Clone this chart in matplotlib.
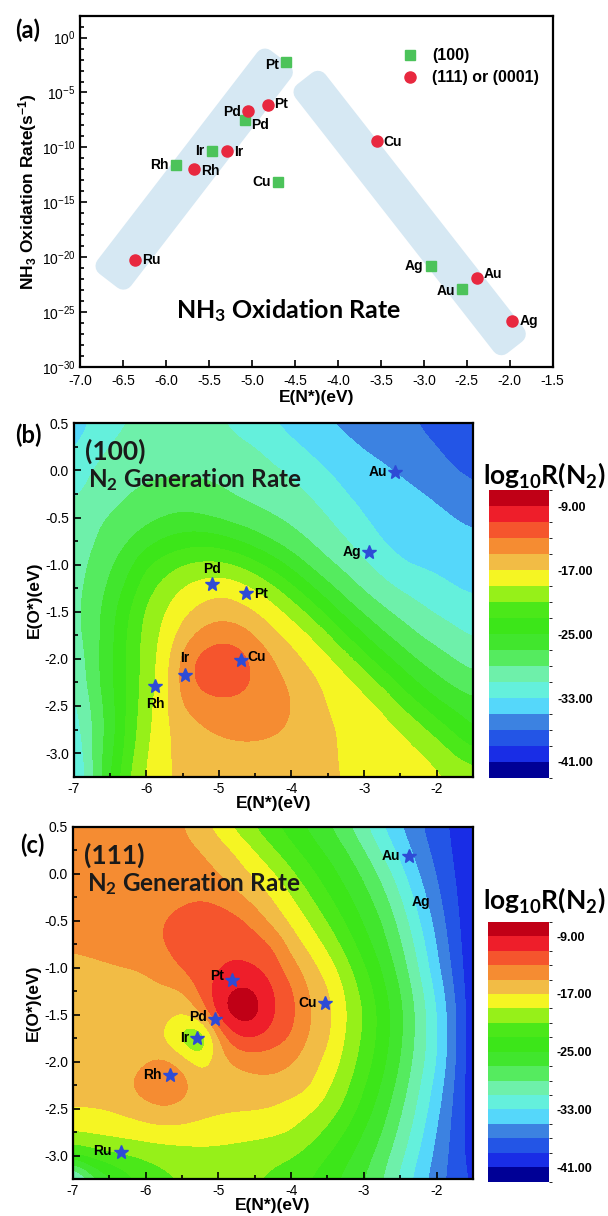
import numpy as np
import matplotlib
matplotlib.use("Agg")
import matplotlib.pyplot as plt
import matplotlib.cm as cm
from matplotlib.colors import ListedColormap, BoundaryNorm
from matplotlib.patches import Polygon
from matplotlib.lines import Line2D
from matplotlib.ticker import (FixedLocator, LogFormatterMathtext, MultipleLocator,
                               FormatStrFormatter, NullFormatter)

plt.rcParams['font.family'] = ['Liberation Sans', 'DejaVu Sans']
plt.rcParams['axes.unicode_minus'] = False
plt.rcParams['mathtext.default'] = 'regular'

# ---------------- (a) NH3 oxidation rate ----------------
metals_100 = ["Pt", "Pd", "Ir", "Rh", "Cu", "Ag", "Au"]
eN_100 = [-4.61, -5.08, -5.47, -5.89, -4.70, -2.92, -2.55]
rate_100 = [5.6e-3, 3.2e-8, 5.0e-11, 2.5e-12, 6.3e-14, 1.6e-21, 1.3e-23]

metals_111 = ["Ru", "Rh", "Ir", "Pd", "Pt", "Cu", "Au", "Ag"]
eN_111 = [-6.36, -5.67, -5.29, -5.05, -4.82, -3.55, -2.38, -1.97]
rate_111 = [5.0e-21, 1.0e-12, 5.0e-11, 2.2e-7, 6.8e-7, 3.8e-10, 1.3e-22, 1.6e-26]

# ---------------- (b)/(c) N2 generation rate maps ----------------
grid_eN = [-7.0, -6.75, -6.5, -6.25, -6.0, -5.75, -5.5, -5.25, -5.0, -4.75, -4.5, -4.25,
           -4.0, -3.75, -3.5, -3.25, -3.0, -2.75, -2.5, -2.25, -2.0, -1.75, -1.5]
grid_eO = [0.5, 0.25, 0.0, -0.25, -0.5, -0.75, -1.0, -1.25, -1.5, -1.75, -2.0, -2.25,
           -2.5, -2.75, -3.0, -3.25]

# log10 R(N2) on the (100) facets, rows follow grid_eO, columns grid_eN
log_rate_100 = [
    [-34.0, -32.8, -31.8, -30.9, -30.7, -30.5, -30.5, -30.6, -30.9, -31.4, -32.2, -33.0, -33.7, -34.3, -35.0, -35.4, -35.8, -36.2, -36.6, -37.1, -37.6, -38.2, -38.8],
    [-33.2, -31.9, -30.8, -30.3, -30.0, -29.85, -29.85, -30.0, -30.3, -30.6, -30.9, -31.7, -32.6, -33.4, -34.0, -34.6, -35.2, -35.6, -36.1, -36.5, -37.0, -37.6, -38.2],
    [-32.4, -30.8, -30.3, -29.8, -29.4, -29.25, -29.2, -29.3, -29.5, -29.9, -30.3, -30.7, -31.2, -32.2, -33.1, -33.6, -34.2, -34.7, -35.2, -35.8, -36.4, -37.0, -37.6],
    [-31.2, -30.4, -29.7, -29.0, -28.6, -28.4, -28.3, -28.4, -28.7, -29.2, -29.6, -30.1, -30.5, -31.0, -32.1, -33.1, -33.5, -33.95, -34.4, -34.8, -35.3, -35.8, -36.4],
    [-30.6, -29.5, -28.85, -28.2, -27.6, -27.0, -26.6, -26.9, -27.4, -27.9, -28.4, -28.9, -29.5, -30.2, -30.9, -32.05, -33.1, -33.5, -33.9, -34.2, -34.6, -35.0, -35.4],
    [-30.3, -29.2, -28.1, -27.1, -25.8, -24.6, -24.0, -23.7, -24.1, -25.0, -26.1, -27.2, -28.2, -29.1, -30.1, -30.8, -32.1, -33.2, -33.6, -34.0, -34.2, -34.4, -34.6],
    [-30.0, -28.6, -27.3, -25.6, -23.0, -21.9, -20.9, -20.4, -20.4, -21.0, -22.3, -23.9, -25.7, -27.4, -28.65, -29.7, -30.7, -31.8, -32.9, -33.2, -33.4, -33.6, -33.8],
    [-29.8, -28.2, -26.6, -24.2, -21.7, -20.1, -18.8, -18.0, -17.6, -18.0, -19.0, -20.5, -22.4, -24.6, -26.5, -28.0, -29.3, -30.3, -31.2, -31.8, -32.5, -33.05, -33.3],
    [-29.6, -28.0, -25.8, -23.1, -20.5, -19.0, -17.4, -16.4, -15.7, -16.1, -17.0, -18.2, -19.6, -21.4, -23.7, -25.8, -27.35, -28.6, -29.6, -30.5, -31.2, -31.8, -32.4],
    [-29.8, -28.0, -25.6, -22.6, -20.2, -18.4, -16.1, -14.2, -13.6, -13.8, -15.0, -16.5, -17.7, -18.9, -20.7, -23.0, -25.0, -26.7, -27.9, -29.0, -29.8, -30.5, -31.2],
    [-30.5, -28.0, -25.5, -22.5, -20.0, -18.0, -14.0, -12.2, -11.5, -11.8, -13.5, -14.9, -16.3, -17.5, -18.6, -20.1, -22.3, -24.2, -25.9, -27.3, -28.2, -29.1, -29.8],
    [-31.0, -28.0, -25.5, -22.4, -20.1, -17.7, -14.0, -12.2, -11.8, -12.2, -13.2, -14.4, -15.2, -16.4, -17.5, -18.4, -19.5, -21.5, -23.5, -25.2, -26.5, -27.5, -28.3],
    [-31.7, -28.7, -25.9, -22.4, -19.7, -17.4, -14.8, -14.0, -13.6, -13.6, -13.9, -14.3, -14.9, -16.0, -17.1, -17.7, -18.35, -19.0, -21.0, -22.7, -24.4, -25.4, -26.3],
    [-32.3, -28.9, -26.1, -22.2, -19.5, -17.3, -16.2, -15.2, -14.7, -14.5, -14.5, -14.7, -15.2, -16.0, -16.75, -17.3, -17.8, -18.35, -18.9, -20.2, -21.9, -23.5, -25.0],
    [-33.0, -28.9, -25.6, -21.8, -19.0, -17.2, -16.5, -16.0, -15.7, -15.5, -15.5, -15.6, -15.8, -16.3, -16.8, -17.2, -17.6, -18.0, -18.3, -18.7, -19.5, -21.3, -22.5],
    [-34.0, -29.0, -25.0, -21.0, -18.7, -17.2, -16.6, -16.2, -15.9, -15.8, -15.8, -15.9, -16.1, -16.5, -16.8, -17.1, -17.4, -17.8, -18.1, -18.4, -18.7, -19.0, -19.8],
]

# log10 R(N2) on the (111) facets
log_rate_111 = [
    [-13.8, -13.9, -14.0, -14.1, -14.2, -14.45, -14.8, -16.25, -17.9, -19.7, -21.3, -22.7, -24.1, -25.5, -26.75, -28.6, -30.7, -33.0, -35.0, -36.7, -38.3, -39.5, -40.3],
    [-13.7, -13.8, -13.85, -13.9, -14.0, -14.2, -14.5, -14.9, -16.05, -17.35, -19.1, -20.9, -22.5, -24.1, -25.5, -26.9, -29.0, -31.4, -33.8, -35.95, -37.8, -39.4, -40.4],
    [-13.8, -13.8, -13.8, -13.8, -13.8, -13.9, -14.0, -14.3, -15.0, -16.2, -17.4, -18.8, -20.7, -22.45, -24.2, -25.8, -27.4, -29.7, -32.4, -35.1, -37.2, -39.2, -40.5],
    [-14.0, -14.0, -13.95, -13.9, -13.8, -13.6, -13.4, -13.1, -13.5, -14.6, -15.9, -17.2, -18.9, -20.9, -22.8, -24.6, -26.3, -28.3, -31.0, -34.0, -36.6, -38.9, -40.6],
    [-14.4, -14.3, -14.2, -14.0, -13.6, -13.0, -12.4, -12.1, -12.0, -12.4, -13.8, -15.9, -17.5, -19.2, -21.25, -23.3, -25.35, -27.1, -29.8, -32.9, -35.9, -38.6, -40.7],
    [-14.8, -14.7, -14.5, -14.2, -13.7, -12.8, -12.2, -11.7, -11.3, -11.4, -12.0, -13.0, -16.0, -17.7, -19.55, -21.85, -24.2, -26.3, -28.8, -31.9, -35.25, -38.2, -40.8],
    [-15.3, -15.2, -15.1, -15.0, -14.85, -13.9, -12.5, -11.7, -11.3, -10.8, -11.0, -12.0, -14.1, -16.2, -18.0, -20.3, -22.8, -25.3, -27.9, -31.1, -34.6, -37.8, -40.8],
    [-15.7, -15.7, -15.6, -15.6, -15.5, -15.4, -15.2, -12.2, -9.8, -8.3, -8.6, -11.0, -12.6, -15.2, -16.7, -19.3, -21.7, -24.4, -27.0, -30.2, -33.6, -37.3, -40.8],
    [-15.9, -15.9, -15.9, -15.8, -15.8, -16.2, -17.2, -15.0, -9.3, -7.5, -7.9, -10.9, -12.3, -14.9, -16.4, -18.9, -21.1, -23.85, -26.55, -29.7, -33.0, -36.8, -40.8],
    [-16.0, -16.0, -16.0, -16.0, -16.1, -17.3, -20.5, -23.0, -15.0, -11.0, -10.9, -11.9, -13.0, -15.3, -16.6, -19.2, -21.4, -23.9, -26.7, -29.75, -32.9, -36.8, -40.8],
    [-16.2, -16.2, -16.2, -16.1, -15.3, -14.4, -15.6, -18.0, -16.0, -14.6, -14.2, -14.3, -14.9, -16.1, -17.55, -19.75, -21.9, -24.4, -27.1, -30.1, -33.0, -37.0, -40.8],
    [-16.5, -16.4, -16.3, -15.1, -13.4, -12.4, -13.8, -15.9, -16.3, -16.0, -15.6, -15.5, -15.8, -16.6, -18.7, -20.5, -22.8, -25.3, -27.8, -30.8, -33.8, -37.35, -40.7],
    [-16.8, -16.8, -16.7, -16.4, -15.7, -15.1, -15.6, -16.3, -16.6, -16.7, -16.8, -17.1, -17.9, -18.6, -19.8, -21.5, -23.9, -26.1, -28.65, -31.5, -34.5, -37.6, -40.6],
    [-18.9, -18.6, -18.3, -18.0, -17.8, -17.6, -17.6, -17.7, -17.9, -18.2, -18.4, -18.6, -19.0, -20.1, -21.4, -23.2, -25.15, -27.0, -29.55, -32.3, -35.2, -37.8, -40.4],
    [-22.6, -21.9, -21.4, -21.1, -20.6, -20.2, -20.0, -19.8, -19.8, -19.9, -20.1, -20.4, -20.8, -21.75, -23.0, -24.5, -26.1, -28.0, -30.55, -33.1, -35.7, -37.9, -40.1],
    [-34.0, -28.3, -25.5, -23.7, -22.45, -21.5, -20.9, -20.6, -20.5, -20.6, -20.85, -21.5, -22.2, -23.0, -24.25, -25.6, -27.0, -29.0, -31.5, -34.0, -36.2, -38.0, -39.5],
]

metals_b = ["Au", "Ag", "Pd", "Pt", "Cu", "Ir", "Rh"]
eN_b = [-2.57, -2.93, -5.10, -4.63, -4.70, -5.47, -5.88]
eO_b = [-0.02, -0.87, -1.21, -1.30, -2.01, -2.17, -2.29]

metals_c = ["Au", "Ag", "Pt", "Cu", "Pd", "Ir", "Rh", "Ru"]
eN_c = [-2.38, -1.97, -4.81, -3.53, -5.04, -5.29, -5.66, -6.34]
eO_c = [0.19, -0.30, -1.13, -1.38, -1.55, -1.75, -2.14, -2.96]
star_shown_c = [True, False, True, True, True, True, True, True]  # Ag star blends into the blue band

cbar_ticks = [-41, -33, -25, -17, -9]

# ---------------- styles ----------------
band_colors = ['#000096', '#192de6', '#2355e6', '#3c82e1', '#55d7fa', '#64f0dc',
               '#6ef0aa', '#55eb5f', '#41e62d', '#3ce619', '#4be819', '#96f019',
               '#f5f523', '#f2bc45', '#f58c32', '#f5552d', '#ee1e2a', '#c00016']
rate_cmap = ListedColormap(band_colors)
rate_norm = BoundaryNorm(np.arange(-43, -5, 2), rate_cmap.N)
green = '#4cc35a'
red = '#e8283f'
star_color = '#2e4bd6'
shade = '#d6e8f3'
calibri = ['Lato', 'DejaVu Sans']

fig = plt.figure(figsize=(6.08, 12.16), dpi=100)

# ================= panel (a) =================
ax = fig.add_axes([0.132, 0.6984, 0.777, 0.2887])
ax.set_yscale('log')
ax.set_xlim(-7.0, -1.5)
ax.set_ylim(1e-30, 1e2)

for corners in ([(0.0912, 0.2472), (0.0528, 0.2870), (0.3910, 0.8788), (0.4295, 0.8390)],
                [(0.5031, 0.8154), (0.4719, 0.7826), (0.8914, 0.0604), (0.9226, 0.0932)]):
    ax.add_patch(Polygon(corners, closed=True, transform=ax.transAxes, facecolor=shade,
                         edgecolor=shade, lw=14, joinstyle='round', zorder=0))

ax.plot(eN_100, rate_100, 's', color=green, ms=7, ls='none', zorder=3)
ax.plot(eN_111, rate_111, 'o', color=red, ms=8, ls='none', zorder=3)

off_100 = [(-5, -2), (4, -4), (-5, 0), (-5, 0), (-5, 0), (-5, 0), (-5, -2)]
off_111 = [(5, 0), (5, -1), (5, -1), (-5, -1), (5, 1), (5, -1), (5, 3), (5, 0)]
for names, xs, ys, offs in ((metals_100, eN_100, rate_100, off_100),
                            (metals_111, eN_111, rate_111, off_111)):
    for n, x, y, (dx, dy) in zip(names, xs, ys, offs):
        ax.annotate(n, (x, y), xytext=(dx, dy), textcoords='offset points',
                    ha='right' if dx < 0 else 'left', va='center',
                    fontsize=10, fontweight='bold', zorder=4)

handles = [Line2D([], [], marker='s', color=green, ms=7, ls='none'),
           Line2D([], [], marker='o', color=red, ms=8, ls='none')]
ax.legend(handles, ['(100)', '(111) or (0001)'], loc='upper left',
          bbox_to_anchor=(0.664, 0.93), frameon=False, borderpad=0,
          handlelength=1.0, handletextpad=0.9, labelspacing=0.45,
          prop={'weight': 'bold', 'size': 11.5})

ax.text(0.44, 0.16, 'NH$_3$ Oxidation Rate', transform=ax.transAxes, ha='center',
        va='center', fontsize=18, fontweight='bold', family=calibri)

ax.yaxis.set_major_locator(FixedLocator([10.0 ** k for k in range(-30, 1, 5)]))
ax.yaxis.set_major_formatter(LogFormatterMathtext())
ax.yaxis.set_minor_locator(FixedLocator([10.0 ** k for k in range(-30, 3)]))
ax.yaxis.set_minor_formatter(NullFormatter())
ax.xaxis.set_major_locator(MultipleLocator(0.5))
ax.xaxis.set_major_formatter(FormatStrFormatter('%.1f'))
ax.tick_params(which='both', direction='in', width=1.2, labelsize=10)
ax.tick_params(which='major', length=5)
ax.tick_params(which='minor', length=3)
ax.tick_params(axis='x', pad=5)
for s in ax.spines.values():
    s.set_linewidth(1.6)
ax.set_xlabel('E(N*)(eV)', fontsize=12.5, fontweight='bold', labelpad=2)
ax.set_ylabel('NH$_3$ Oxidation Rate(s$^{-1}$)', fontsize=12.5, fontweight='bold', labelpad=2)
fig.text(0.045, 0.975, '(a)', fontsize=17, fontweight='bold', family=calibri,
         ha='center', va='center')


# ================= panels (b) and (c) =================
def draw_map(rect, cbar_rect, grid, names, xs, ys, shown, offs, facet, letter,
             letter_xy, title_y):
    ax = fig.add_axes(rect)
    ax.imshow(np.array(grid), extent=[-7.125, -1.375, -3.375, 0.625], origin='upper',
              cmap=rate_cmap, norm=rate_norm, interpolation='bicubic',
              interpolation_stage='data', aspect='auto')
    ax.set_xlim(-7.0, -1.5)
    ax.set_ylim(-3.25, 0.5)
    sx = [x for x, s in zip(xs, shown) if s]
    sy = [y for y, s in zip(ys, shown) if s]
    ax.plot(sx, sy, '*', color=star_color, ms=10, ls='none', zorder=3)
    for n, x, y, (dx, dy) in zip(names, xs, ys, offs):
        ha = 'right' if dx < 0 else ('left' if dx > 0 else 'center')
        ax.annotate(n, (x, y), xytext=(dx, dy), textcoords='offset points', ha=ha,
                    va='center', fontsize=10, fontweight='bold', zorder=4)
    ax.text(0.028, 0.92, facet, transform=ax.transAxes, ha='left', va='center',
            fontsize=19, fontweight='bold', family=calibri, color='#1a1a1a')
    ax.text(0.036, 0.84, 'N$_2$ Generation Rate', transform=ax.transAxes, ha='left',
            va='center', fontsize=17.5, fontweight='bold', family=calibri, color='#1a1a1a')
    ax.xaxis.set_major_locator(MultipleLocator(1.0))
    ax.xaxis.set_minor_locator(MultipleLocator(0.5))
    ax.xaxis.set_major_formatter(FormatStrFormatter('%d'))
    ax.yaxis.set_major_locator(MultipleLocator(0.5))
    ax.yaxis.set_minor_locator(MultipleLocator(0.25))
    ax.yaxis.set_major_formatter(FormatStrFormatter('%.1f'))
    ax.tick_params(which='both', direction='in', width=1.2, labelsize=10)
    ax.tick_params(which='major', length=5)
    ax.tick_params(which='minor', length=3)
    for s in ax.spines.values():
        s.set_linewidth(1.6)
    ax.set_xlabel('E(N*)(eV)', fontsize=12.5, fontweight='bold', labelpad=0)
    ax.set_ylabel('E(O*)(eV)', fontsize=12.5, fontweight='bold', labelpad=2)

    cax = fig.add_axes(cbar_rect)
    cb = fig.colorbar(cm.ScalarMappable(norm=rate_norm, cmap=rate_cmap), cax=cax,
                      ticks=cbar_ticks)
    cb.outline.set_visible(False)
    cax.tick_params(length=0, pad=6)
    cax.set_yticklabels([f'{t:.2f}' for t in cbar_ticks], fontsize=9, fontweight='bold')
    fig.text(0.895, title_y, 'log$_{10}$R(N$_2$)', ha='center', va='center',
             fontsize=19, fontweight='bold', family=calibri)
    fig.text(letter_xy[0], letter_xy[1], letter, fontsize=17, fontweight='bold',
             family=calibri, ha='center', va='center')


off_b = [(-6, 0), (-6, 0), (0, 11), (6, -1), (5, 2), (0, 12), (0, -13)]
off_c = [(-6, 0), (-6, 0), (-6, 3), (-6, 0), (-6, 2), (-6, 0), (-6, 0), (-7, 1)]

draw_map([0.1212, 0.3613, 0.6567, 0.2906], [0.8043, 0.3602, 0.0982, 0.2368],
         log_rate_100, metals_b, eN_b, eO_b, [True] * len(metals_b), off_b,
         '(100)', '(b)', (0.046, 0.642), 0.609)
draw_map([0.1199, 0.0302, 0.6580, 0.2900], [0.8026, 0.0282, 0.0997, 0.2138],
         log_rate_111, metals_c, eN_c, eO_c, star_shown_c, off_c,
         '(111)', '(c)', (0.053, 0.305), 0.260)

fig.savefig('out.png', dpi=100)
